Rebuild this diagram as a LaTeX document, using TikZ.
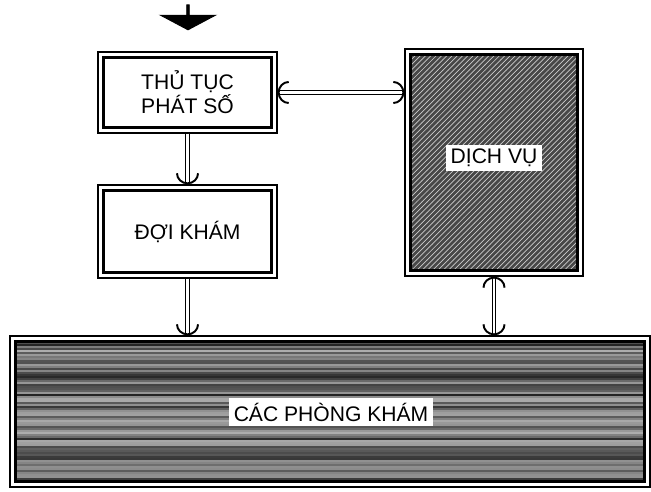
\documentclass[tikz,border=0pt]{standalone}
\usepackage{fontspec}
\setmainfont{Liberation Sans}
\usetikzlibrary{arrows.meta,shapes.arrows,patterns}
\tikzset{
  >={Arc Barb[length=2.2mm,width=4.6mm,line width=1.1pt]},
  fr/.style={draw,line width=0.8pt,inner sep=0pt,fill=white,font=\fontsize{12}{13.5}\selectfont,align=center},
  lb/.style={fill=white,inner sep=2.5pt,font=\fontsize{12}{13.5}\selectfont},
  ln/.style={double,double distance=1.2pt,line width=0.75pt},
  big/.style={single arrow,fill,draw,shape border rotate=270,inner sep=0pt,minimum height=0.5cm,minimum width=1.1cm,single arrow head extend=0.18cm,single arrow tip angle=124,single arrow head indent=0pt},
  every picture/.style={line width=0.5pt},
}

\begin{document}
\begin{tikzpicture}[x=0.02cm,y=-0.02cm]
\useasboundingbox (0,0) rectangle (651,492);
\pgfmathsetseed{11}
\node[big] (in) at (188,17){};
\node[fr,minimum width=3.58cm,minimum height=1.62cm] (b1) at (187.5,92.5){THỦ TỤC\\PHÁT SỐ};
\node[fr,minimum width=3.58cm,minimum height=1.86cm] (b2) at (187.5,231.5){ĐỢI KHÁM};
\node[fr,minimum width=3.56cm,minimum height=4.54cm] (b3) at (494,162.5){};
\node[fr,minimum width=12.8cm,minimum height=3.02cm] (b4) at (330,411.5){};
% inner frames
\foreach \n in {b1,b2} \draw[line width=1.6pt] ([shift={(6,6)}]\n.north west) rectangle ([shift={(-6,-6)}]\n.south east);
\draw[line width=1.6pt,preaction={fill=black!72},pattern=north east lines,pattern color=white!80!black] ([shift={(6,6)}]b3.north west) rectangle ([shift={(-6,-6)}]b3.south east);
% streaky fill of the bottom box
\foreach \i in {0,...,69}{
  \pgfmathsetmacro\g{int(30+60*rnd)}
  \fill[black!\g] (16,342+2*\i) rectangle (644,344+2*\i);
}
\draw[line width=1.6pt] ([shift={(6,6)}]b4.north west) rectangle ([shift={(-6,-6)}]b4.south east);
\node[lb] (t3) at (494,158){DỊCH VỤ};
\node[lb] (t4) at (331,412){CÁC PHÒNG KHÁM};
% links
\draw[ln,->] (b1) -- (b2);
\draw[ln,->] (b2) -- (b2.south |- b4.north);
\draw[ln,<->] (b1.east) -- (b1.east -| b3.west);
\draw[ln,<->] (b3) -- (b3.south |- b4.north);
\end{tikzpicture}
\end{document}
